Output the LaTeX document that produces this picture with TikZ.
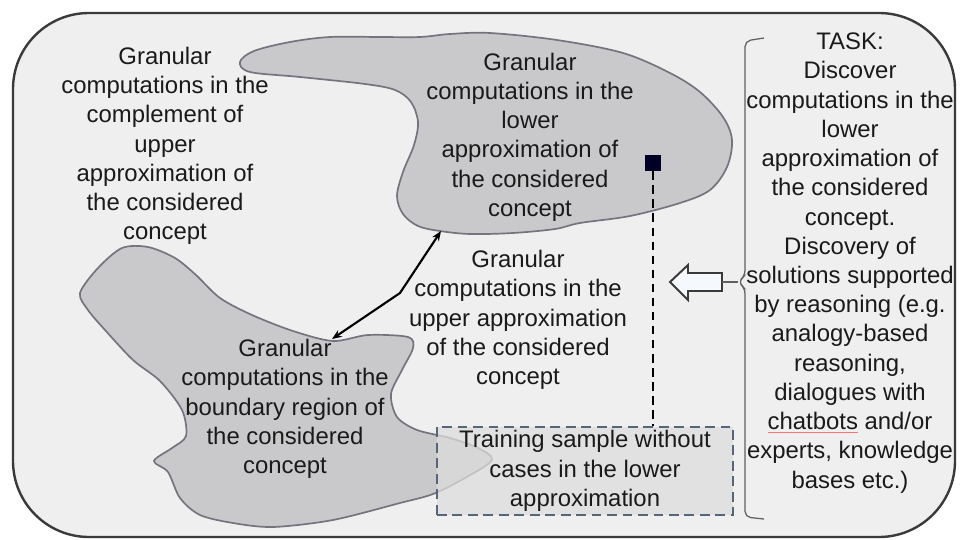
\documentclass[tikz,border=0pt]{standalone}
\usepackage{fontspec}
\setmainfont{Liberation Sans}
\usetikzlibrary{arrows.meta}
\definecolor{panel}{HTML}{EFEFEF}
\definecolor{frame}{HTML}{3A3A3A}
\definecolor{blob}{HTML}{C9C9CB}
\definecolor{blobline}{HTML}{74747E}
\definecolor{txt}{HTML}{1A1A1A}
\definecolor{boxline}{HTML}{56667A}
\definecolor{hollow}{HTML}{F5F8FC}

\begin{document}
\begin{tikzpicture}[x=0.025cm, y=-0.025cm,
	label/.style={align=center, text=txt, font=\fontsize{17}{20.8}\selectfont, inner sep=0pt},
	region/.style={fill=blob, draw=blobline, line width=1.2pt},
	link/.style={black, line width=1.5pt, {Stealth[length=7pt,width=5.5pt]}-{Stealth[length=7pt,width=5.5pt]}},
	]
	\useasboundingbox[fill=white] (0,0) rectangle (962,540);
	\draw[frame, line width=1.7pt, fill=panel, rounded corners=1.9cm] (13,13) rectangle (955,537);
	% granules
	\draw[region] plot[smooth cycle, tension=0.55] coordinates {
		(240,62) (254,51) (290,42) (330,37) (380,37) (420,37) (450,34) (490,33) (557,40) (623,53)
		(670,73) (700,92) (723,117) (732,140) (727,167) (710,190) (680,203) (630,216) (580,223)
		(555,229) (513,233) (470,234) (440,231) (418,226) (403,214) (397,196) (403,172) (414,145)
		(418,122) (411,102) (395,90) (365,84) (300,77) (250,72)};
	\draw[region] plot[smooth cycle, tension=0.5] coordinates {
		(80,293) (98,268) (122,248) (148,247) (175,258) (196,275) (220,298) (252,315) (293,331)
		(333,341) (368,335) (408,337) (413,348) (402,370) (391,394) (397,417) (417,430) (450,438)
		(478,448) (492,460) (465,478) (433,494) (400,503) (333,520) (273,527) (233,523) (200,515)
		(180,498) (168,472) (154,461) (172,448) (186,436) (182,410) (160,381) (133,360) (105,330) (88,310)};
	\node[label] (outside) at (165,146) {Granular\\computations in the\\complement of\\upper\\approximation of\\the considered\\concept};
	\node[label] (lower) at (530,137) {Granular\\computations in the\\lower\\approximation of\\the considered\\concept};
	\node[label] (upper) at (518,320) {Granular\\computations in the\\upper approximation\\of the considered\\concept};
	\node[label] (boundary) at (285,409) {Granular\\computations in the\\boundary region of\\the considered\\concept};
	\node[label, draw=boxline, line width=1.6pt, dash pattern=on 7pt off 4pt, fill=gray!27, fill opacity=0.75, text opacity=1,
		minimum width=7.4cm, minimum height=2.2cm] (sample) at (585,471) {Training sample without\\cases in the lower\\approximation};
	\node[label] (task) at (850,263) {TASK:\\Discover\\computations in the\\lower\\approximation of\\the considered\\concept.\\Discovery of\\solutions supported\\by reasoning (e.g.\\analogy-based\\reasoning,\\dialogues with\\{\color{red!55}\underline{\textcolor{txt}{chatbots}}} and/or\\experts, knowledge\\bases etc.)};
	\node[fill=black!85!blue, minimum size=0.4cm, inner sep=0pt] (case) at (653,163) {};
	\draw[black, line width=1.8pt, dash pattern=on 6pt off 4pt] (case.south) -- (case.south |- sample.north);
	% link between granules
	\coordinate (lowtip) at (441,231);
	\coordinate (bend) at (400,293);
	\coordinate (bndtip) at (332,339);
	\draw[link] (lowtip) -- (bend) -- (bndtip);
	% task bracket and hollow arrow
	\draw[gray!75!black, line width=0.9pt, rounded corners=4pt] (764,38) -- (745,41) -- (745,276) -- (738,282) -- (745,288) -- (745,517) -- (764,519);
	\draw[frame, line width=1.4pt, fill=hollow] (670,282) -- (688,265) -- (688,273) -- (722,273) -- (722,291) -- (688,291) -- (688,300) -- cycle;
	\draw[gray!75!black, line width=0.9pt] (722,282) -- (738,282);
\end{tikzpicture}
\end{document}
